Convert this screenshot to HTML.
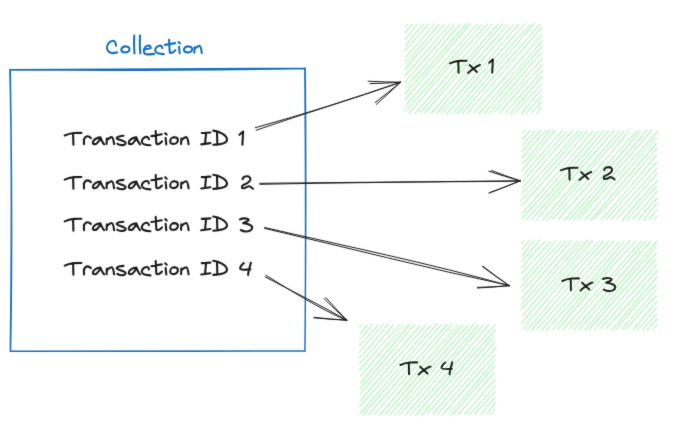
<!DOCTYPE html>
<html><head><meta charset="utf-8"><style>
html,body{margin:0;padding:0;background:#fff;width:676px;height:435px;overflow:hidden;font-family:"Liberation Sans",sans-serif;}
svg{display:block}
</style></head><body>
<svg width="676" height="435" viewBox="0 0 676 435">
<defs><filter id="bl" x="-5%" y="-5%" width="110%" height="110%"><feConvolveMatrix order="3" kernelMatrix="0.015 0.06 0.015 0.06 0.7 0.06 0.015 0.06 0.015" preserveAlpha="false"/></filter></defs>
<rect width="676" height="435" fill="#ffffff"/>
<g filter="url(#bl)">
<path fill="none" stroke="#b2f2bb" stroke-width="0.9" d="M404.76 27.30 C406.10 26.21 406.39 25.15 407.51 23.80 M405.15 27.09 C405.96 25.79 407.12 24.67 407.73 24.07 M406.14 33.42 C405.66 29.81 407.68 30.01 412.47 23.68 M404.92 32.62 C408.15 30.08 410.65 25.86 412.84 23.44 M405.11 40.38 C407.77 34.86 412.45 30.41 417.01 24.88 M405.72 39.14 C407.85 35.43 410.53 32.68 417.74 23.39 M406.03 46.23 C410.45 38.59 415.71 31.29 424.23 23.46 M405.13 45.16 C410.63 40.00 414.52 34.13 424.21 24.03 M404.88 51.12 C412.58 42.92 420.60 33.83 427.78 23.81 M404.20 51.49 C413.71 40.16 423.19 29.93 429.64 23.98 M404.83 58.26 C414.81 48.38 421.80 38.45 435.46 22.89 M405.23 57.68 C412.68 49.11 419.86 41.59 434.05 24.57 M406.32 64.48 C418.07 51.80 427.74 37.19 438.30 24.30 M404.33 63.14 C417.95 47.85 432.45 33.90 439.39 24.39 M405.53 69.91 C417.71 53.84 432.35 39.18 443.82 24.35 M404.31 69.61 C418.98 51.77 434.15 35.27 445.17 24.21 M405.02 75.07 C416.21 62.02 428.67 49.18 449.88 23.93 M405.48 75.67 C418.65 61.07 432.30 45.34 449.36 24.56 M404.43 82.69 C424.29 60.09 441.43 38.45 454.06 24.93 M405.72 81.43 C424.87 59.20 445.01 37.47 454.58 23.52 M405.99 88.86 C426.95 63.78 444.61 41.29 459.21 24.21 M404.47 87.47 C425.97 64.70 447.30 39.56 461.32 24.02 M404.51 92.98 C422.73 75.78 438.36 56.91 467.51 22.96 M405.09 94.05 C426.39 68.58 448.56 43.80 465.45 24.21 M404.55 99.82 C423.78 74.54 445.42 53.48 469.81 22.97 M405.72 99.48 C427.01 75.49 448.28 50.18 470.71 23.85 M406.21 105.26 C431.33 77.41 454.94 48.34 477.80 23.65 M404.37 106.66 C419.75 88.40 435.95 71.34 476.30 24.65 M403.44 111.31 C430.31 84.35 453.35 55.53 481.77 24.25 M405.75 111.91 C427.48 87.90 447.73 63.61 481.08 24.54 M408.98 113.80 C431.20 88.13 449.50 64.58 488.18 23.19 M409.31 113.48 C427.89 90.22 447.26 68.01 487.58 24.77 M414.53 113.92 C432.78 95.18 450.03 72.36 492.06 23.87 M414.72 113.73 C435.95 88.67 456.55 64.95 492.39 23.45 M418.77 112.19 C437.42 95.54 454.52 75.52 498.18 24.81 M420.25 113.57 C442.45 87.67 463.94 61.77 498.06 23.87 M424.11 112.76 C455.53 78.92 483.69 45.22 503.40 23.84 M425.08 113.67 C453.84 79.08 483.74 45.09 502.69 23.54 M432.09 113.58 C452.92 86.60 477.08 60.38 507.17 23.86 M430.44 113.84 C456.44 84.11 482.35 52.92 509.14 24.69 M437.27 114.11 C456.71 85.94 479.90 61.52 513.05 24.80 M435.44 114.12 C463.08 81.07 490.72 50.66 513.81 24.30 M442.80 113.51 C470.46 81.45 498.22 46.62 519.45 23.86 M440.72 112.87 C470.29 80.39 499.03 47.84 518.40 23.98 M446.54 114.28 C469.52 87.50 490.07 64.58 525.45 22.77 M446.48 114.00 C474.53 80.84 503.13 47.36 524.77 24.08 M453.26 114.21 C476.80 86.84 499.75 56.22 531.14 24.43 M452.09 113.32 C477.72 83.04 504.71 52.12 529.95 24.65 M457.56 114.41 C482.03 83.92 507.09 55.11 535.75 22.49 M456.60 114.19 C480.67 86.43 504.55 57.97 534.12 23.59 M461.96 113.15 C478.57 94.50 492.70 75.61 540.64 24.53 M462.39 113.83 C481.44 90.74 501.38 68.82 540.31 23.67 M467.29 114.12 C483.36 93.71 499.40 77.19 541.43 27.01 M467.00 113.77 C496.57 79.18 526.43 45.11 542.47 27.49 M474.24 113.56 C500.76 82.51 527.78 52.47 542.51 35.65 M472.51 113.25 C497.07 85.84 520.01 59.00 541.86 33.64 M479.02 114.22 C500.61 89.44 521.82 64.29 542.73 40.24 M478.56 113.47 C501.74 87.54 524.90 60.87 542.64 40.76 M483.90 114.76 C497.71 96.18 513.42 77.06 542.03 46.01 M484.00 113.03 C501.42 93.76 519.90 73.13 542.51 46.02 M489.94 114.04 C510.22 90.84 528.76 65.74 541.69 52.72 M488.90 112.71 C499.02 101.23 510.19 87.95 542.59 51.65 M494.75 111.97 C510.02 95.58 526.20 75.78 542.78 58.70 M493.97 112.71 C506.77 99.27 519.82 83.28 542.77 57.82 M499.23 112.68 C509.15 101.36 519.85 87.36 542.83 65.40 M500.18 113.69 C511.07 99.61 522.78 86.51 542.06 64.63 M505.67 112.79 C514.39 102.71 521.23 95.99 543.11 71.12 M505.13 113.52 C517.57 98.64 530.15 83.49 542.25 70.39 M510.11 114.45 C520.71 103.13 530.38 91.28 542.26 76.65 M509.96 113.11 C517.12 104.32 524.36 96.48 541.90 76.23 M513.85 113.57 C524.98 102.46 532.48 93.96 542.29 83.47 M514.94 112.69 C522.32 106.21 527.29 99.07 542.01 83.52 M521.70 114.90 C527.03 105.83 532.95 99.26 540.86 89.43 M520.59 113.51 C529.20 103.38 537.11 95.63 541.46 89.26 M526.71 113.02 C529.69 107.83 534.51 104.29 543.18 96.11 M525.67 113.79 C529.34 110.16 533.12 105.88 541.21 94.58 M532.15 111.89 C533.67 109.54 538.55 106.85 541.63 102.14 M531.33 113.73 C534.18 110.33 537.62 105.37 541.31 100.90 M536.73 114.13 C538.45 112.10 539.20 109.10 541.56 107.10 M536.88 113.03 C538.01 111.99 538.86 110.92 542.09 107.06"/>
<path fill="none" stroke="#b2f2bb" stroke-width="0.9" d="M521.97 133.55 C522.84 132.39 523.55 131.86 524.89 130.17 M522.08 133.36 C522.91 132.93 523.46 131.99 524.51 130.30 M521.37 138.51 C524.41 136.75 527.75 134.14 530.29 130.50 M522.60 140.25 C525.06 136.88 527.07 133.26 529.69 129.98 M521.64 147.21 C527.82 138.69 530.46 136.21 535.15 132.04 M522.45 145.37 C525.15 141.19 530.25 137.61 534.64 130.09 M520.97 152.03 C526.07 146.06 531.06 141.17 541.01 129.27 M522.75 152.33 C527.06 146.46 532.18 139.61 541.12 130.73 M521.23 158.81 C526.49 151.36 530.92 144.66 546.11 129.68 M522.73 157.91 C529.81 149.75 536.83 139.83 546.50 131.01 M523.41 163.06 C530.89 156.76 537.07 146.91 549.88 129.02 M521.61 164.55 C533.74 150.44 544.51 137.96 550.46 130.07 M521.30 171.47 C531.57 156.16 542.53 145.17 555.04 129.46 M521.78 170.76 C532.15 159.74 541.12 148.77 555.87 129.76 M523.48 174.70 C530.23 166.73 538.62 156.90 563.35 129.14 M522.38 176.55 C534.59 162.50 546.17 147.99 562.39 131.09 M522.23 182.72 C534.15 167.64 547.64 151.34 567.50 132.08 M522.38 182.45 C538.65 163.46 555.02 143.84 566.30 130.66 M521.99 188.79 C538.51 170.32 550.51 153.31 572.92 129.55 M521.91 189.05 C533.13 175.01 544.70 161.08 572.84 131.16 M521.41 193.35 C543.03 171.45 565.09 146.97 579.09 129.79 M521.54 194.38 C535.26 179.74 547.78 165.32 578.42 130.42 M520.53 201.28 C535.85 184.57 549.66 168.57 581.79 130.36 M521.43 199.89 C534.33 186.42 546.82 172.38 583.44 131.23 M520.97 205.15 C544.60 181.75 565.98 154.66 587.76 131.13 M521.83 207.18 C542.66 182.61 562.84 160.45 587.66 130.43 M522.22 214.02 C545.67 187.61 567.87 159.92 592.61 131.21 M521.54 213.45 C548.60 183.39 573.91 153.16 593.26 131.16 M521.81 219.07 C551.60 186.57 577.75 154.78 597.46 131.46 M521.42 218.34 C540.29 198.17 558.83 177.38 599.56 130.49 M526.43 219.33 C558.00 185.90 587.67 151.67 604.34 129.90 M525.88 220.56 C548.10 194.82 568.96 169.58 604.21 130.51 M531.70 219.68 C558.27 190.88 582.25 162.56 608.06 130.62 M531.28 219.96 C552.40 194.06 575.50 169.50 609.41 130.21 M535.76 220.89 C553.79 197.16 572.99 177.42 614.18 130.04 M536.35 220.02 C562.32 190.24 587.97 161.62 614.55 130.36 M542.67 220.44 C566.63 194.12 590.69 166.76 619.20 131.27 M541.95 220.68 C569.39 188.62 598.64 154.83 619.63 130.86 M547.30 220.93 C566.53 196.73 587.92 172.95 624.39 131.08 M547.56 220.41 C576.62 186.56 605.86 151.36 624.72 129.76 M551.72 218.99 C576.03 193.23 602.69 165.73 629.36 129.10 M552.57 219.95 C583.29 184.63 613.80 149.03 630.97 131.05 M557.85 219.02 C575.52 198.60 593.43 178.67 636.92 131.15 M558.31 220.01 C587.69 187.30 615.48 154.16 636.34 130.94 M564.67 220.62 C592.68 187.87 619.76 155.25 639.88 129.99 M563.67 220.20 C586.58 194.60 610.13 167.34 641.51 130.61 M569.21 220.64 C593.60 193.47 615.09 164.86 647.32 129.72 M568.55 219.36 C590.80 195.94 613.09 170.22 647.30 130.61 M572.69 220.31 C605.73 182.45 637.32 147.10 651.76 129.44 M574.76 219.87 C597.20 193.94 620.22 166.67 652.10 130.60 M577.80 219.18 C597.51 196.22 619.72 174.04 658.27 131.47 M578.67 220.65 C594.85 200.65 612.03 181.52 657.04 131.37 M585.66 220.33 C608.39 191.17 634.41 161.14 655.57 136.86 M584.58 219.62 C601.13 200.96 617.71 182.42 657.80 137.50 M591.21 220.91 C613.93 193.21 636.06 167.50 657.21 143.16 M589.55 220.77 C612.20 195.75 632.70 169.24 656.63 142.75 M593.88 218.68 C616.31 197.06 636.22 173.43 656.93 148.04 M594.57 219.39 C612.06 200.77 628.59 181.03 656.88 148.58 M602.12 219.44 C621.28 197.14 642.90 172.62 656.58 153.77 M600.65 219.98 C622.46 195.70 643.77 170.99 656.54 155.32 M606.47 219.31 C615.96 206.63 628.89 193.93 655.78 161.83 M606.51 219.90 C621.99 200.86 637.27 182.54 657.70 161.79 M610.71 219.67 C622.35 205.95 634.37 194.71 657.13 168.33 M611.76 219.65 C624.99 203.35 640.16 186.95 657.75 167.50 M617.37 218.67 C630.07 203.90 647.32 184.97 657.43 172.21 M616.00 220.42 C630.53 204.30 644.49 187.33 657.75 173.63 M622.42 221.33 C631.97 208.81 643.32 196.78 657.98 180.52 M621.79 220.34 C635.25 204.48 647.96 188.72 657.39 180.24 M626.81 219.33 C636.98 209.25 643.10 199.95 657.47 186.43 M627.19 220.65 C633.61 211.27 640.92 203.31 656.58 185.89 M631.65 218.95 C641.16 210.48 648.35 203.05 656.93 190.88 M632.43 220.73 C641.44 208.91 650.05 199.37 657.48 191.46 M639.22 220.50 C642.72 211.70 649.38 206.06 657.95 198.42 M637.37 219.62 C644.58 212.98 650.42 206.60 656.63 197.80 M643.98 221.11 C647.14 215.06 648.61 213.37 655.71 203.77 M643.52 219.69 C647.42 215.10 651.75 209.83 657.52 203.37 M649.14 219.50 C650.44 215.81 653.13 213.75 657.57 209.56 M648.20 220.62 C651.71 216.82 653.57 213.06 657.28 209.59 M654.07 220.31 C654.32 218.91 655.49 217.41 657.04 215.82 M653.42 219.84 C654.60 218.84 655.64 217.90 657.12 215.94"/>
<path fill="none" stroke="#b2f2bb" stroke-width="0.9" d="M521.21 243.15 C522.17 242.46 523.31 241.90 524.23 240.55 M521.36 243.71 C522.22 242.67 523.11 241.60 524.08 240.46 M522.51 249.67 C523.51 247.51 528.51 242.02 529.26 239.62 M521.74 249.10 C523.17 247.67 525.54 244.79 529.57 240.47 M523.00 257.27 C525.81 251.01 528.51 247.86 535.31 239.26 M522.00 255.74 C524.05 252.49 527.97 248.24 534.31 240.38 M521.66 260.81 C527.18 254.55 530.99 249.61 540.49 239.07 M521.46 262.57 C526.98 256.41 531.90 250.13 539.83 240.00 M520.76 268.80 C529.15 257.70 536.43 247.46 545.73 242.05 M521.22 268.40 C531.56 257.37 540.13 246.23 545.31 240.70 M520.42 273.37 C529.82 264.67 537.40 256.96 551.28 241.16 M521.79 274.34 C528.10 266.62 535.64 257.45 550.55 241.27 M522.98 280.96 C531.91 267.82 544.20 256.10 556.21 240.01 M520.73 280.47 C531.43 269.73 540.84 259.06 556.01 240.96 M520.90 287.62 C533.37 273.84 544.12 259.89 561.36 241.14 M521.22 286.52 C532.20 272.88 543.55 261.10 561.67 240.76 M521.46 292.14 C538.02 273.15 555.97 251.72 566.00 241.92 M521.02 292.22 C530.25 282.71 539.78 271.91 566.01 240.44 M521.37 299.56 C538.42 279.14 553.66 262.24 571.52 241.05 M521.79 298.18 C538.18 278.83 554.56 259.62 571.54 239.92 M520.05 305.49 C534.41 290.44 549.05 273.00 578.34 241.77 M522.05 304.69 C537.04 287.34 551.48 270.19 577.00 240.31 M520.44 309.67 C537.71 292.41 555.44 270.05 583.52 241.70 M521.19 310.04 C544.44 285.38 565.60 259.92 581.69 240.19 M522.19 316.06 C534.33 300.62 548.14 287.35 588.09 239.23 M521.54 316.96 C544.26 291.09 566.33 265.35 587.97 240.32 M520.79 324.17 C541.70 300.41 562.58 277.44 593.63 240.27 M522.04 322.22 C540.78 298.75 560.93 275.52 592.26 240.10 M522.99 330.38 C539.14 310.52 553.95 288.53 599.71 240.42 M521.57 328.61 C539.27 307.01 558.40 287.06 599.13 240.92 M527.20 330.32 C556.67 294.08 585.35 260.98 604.39 241.54 M526.43 330.78 C553.40 298.20 580.97 267.29 603.43 240.07 M531.28 331.45 C553.33 304.87 573.84 279.60 609.71 240.92 M531.27 329.81 C549.03 308.65 568.38 287.62 608.95 240.44 M535.88 329.57 C554.37 310.77 572.45 287.84 614.76 240.17 M536.72 329.36 C559.42 303.89 584.19 276.55 613.73 240.40 M540.78 330.44 C561.66 307.66 581.11 285.88 619.42 241.90 M542.09 330.40 C563.04 305.30 585.47 280.35 619.81 240.69 M545.53 331.25 C574.86 299.20 602.10 270.16 623.74 241.58 M546.91 329.28 C568.71 304.25 591.23 278.89 624.25 241.03 M553.74 328.87 C572.96 306.33 596.61 281.86 630.24 240.07 M552.43 330.47 C569.87 308.45 589.40 286.49 630.34 240.00 M557.45 328.47 C585.74 296.47 614.04 262.68 636.80 240.57 M557.73 330.07 C582.02 301.35 606.40 272.84 635.92 240.54 M562.65 330.96 C588.28 301.39 613.62 272.83 641.93 240.98 M562.35 329.27 C585.23 305.54 605.85 281.13 641.50 240.55 M569.78 329.11 C585.79 309.00 603.72 287.64 646.69 241.30 M568.66 329.89 C595.74 296.85 624.85 264.74 645.40 240.48 M573.67 330.10 C597.38 305.89 617.19 280.45 650.76 241.90 M573.81 330.33 C589.79 309.93 607.46 290.91 650.83 240.39 M579.74 329.80 C608.22 296.23 633.77 265.72 657.87 241.01 M578.16 329.35 C602.27 304.49 626.02 277.39 656.93 240.45 M585.26 330.57 C610.04 298.60 635.54 269.73 655.89 245.24 M583.88 330.78 C605.44 306.23 625.61 282.37 656.52 246.94 M588.31 330.13 C614.05 299.54 641.25 269.30 656.15 253.03 M588.79 330.70 C609.20 307.60 629.17 283.66 657.76 252.29 M594.91 329.19 C620.08 302.12 641.35 274.46 656.27 259.82 M594.02 330.53 C617.34 302.69 641.22 276.85 656.49 257.69 M598.90 329.36 C621.35 304.60 645.36 280.89 657.11 263.17 M600.72 329.24 C613.39 315.06 626.49 298.25 656.63 265.11 M605.86 328.94 C618.49 316.08 632.45 300.09 658.55 270.28 M604.72 329.64 C625.41 307.04 644.85 283.68 656.96 269.79 M612.04 330.57 C622.29 319.96 630.84 307.69 657.49 277.30 M610.56 330.30 C620.84 319.13 630.28 306.63 657.36 275.96 M615.35 330.68 C630.43 311.21 645.46 293.50 657.39 284.34 M615.65 329.75 C623.61 320.47 632.12 310.39 656.42 283.46 M622.01 329.13 C631.97 317.24 646.09 302.27 655.86 289.81 M622.00 330.20 C631.84 316.87 643.88 304.67 656.96 288.29 M625.55 328.88 C633.55 320.54 639.50 313.44 655.56 295.72 M626.02 329.87 C637.06 316.71 648.54 304.28 657.77 295.25 M633.33 330.89 C642.29 318.83 651.96 308.00 657.25 301.22 M632.56 330.44 C638.59 322.19 645.50 313.68 657.04 301.43 M637.53 328.95 C641.73 326.42 645.56 319.42 657.31 306.88 M636.90 330.78 C642.97 323.67 649.36 317.59 656.23 307.85 M641.67 330.69 C645.74 326.09 649.16 322.41 657.50 313.89 M643.04 330.06 C645.41 326.02 647.78 323.85 656.30 313.90 M646.43 329.85 C650.69 327.26 651.01 323.96 658.26 318.24 M647.83 330.26 C650.40 326.12 654.50 322.52 656.98 319.30 M653.20 330.05 C653.94 328.46 655.75 327.06 656.85 325.00 M653.15 329.73 C653.95 328.60 655.20 327.26 657.27 325.36"/>
<path fill="none" stroke="#b2f2bb" stroke-width="0.9" d="M359.88 327.39 C360.04 326.59 360.70 326.29 361.95 324.63 M359.74 327.69 C360.06 326.82 360.75 326.32 362.38 324.72 M360.31 333.16 C363.32 330.32 365.99 327.16 367.38 324.27 M359.99 334.11 C362.49 331.41 364.24 328.86 367.11 324.81 M359.67 339.05 C363.37 335.84 367.00 329.92 372.82 323.75 M358.92 340.08 C363.67 335.93 366.57 333.03 372.12 324.03 M358.51 345.66 C367.36 339.43 373.86 329.53 379.28 324.20 M359.77 346.30 C365.63 338.66 372.59 331.29 377.93 324.96 M360.19 350.80 C365.21 343.43 372.95 337.62 383.59 323.12 M358.80 352.83 C365.93 343.97 373.03 336.55 382.77 324.55 M359.07 358.12 C368.89 349.25 375.27 340.57 388.10 323.10 M359.21 358.43 C368.69 347.57 377.03 337.65 388.34 324.26 M359.27 362.91 C368.82 355.26 374.70 346.28 393.06 324.54 M359.50 363.65 C371.00 351.40 381.65 339.25 393.74 324.42 M359.41 371.53 C369.65 359.50 376.41 350.33 400.32 324.03 M358.81 369.92 C375.20 352.69 389.63 335.74 399.10 325.08 M360.99 376.49 C371.70 363.53 381.53 351.53 405.74 325.87 M360.10 376.48 C369.63 365.58 379.68 352.62 403.93 323.85 M360.77 384.12 C378.34 362.10 395.14 343.40 410.64 323.93 M360.39 382.48 C377.33 362.72 395.37 341.06 409.20 324.21 M360.72 389.75 C373.71 373.37 389.64 354.68 414.49 324.48 M359.40 388.58 C380.24 364.65 401.16 340.70 414.74 323.96 M359.59 394.78 C380.26 371.14 399.34 350.26 420.32 326.07 M360.14 394.16 C370.94 380.73 384.79 366.01 420.53 324.77 M359.44 401.64 C375.53 381.48 391.08 364.06 425.62 325.93 M360.29 401.32 C383.68 374.13 406.57 347.58 426.00 324.21 M358.18 407.36 C375.88 388.18 392.62 370.68 430.77 325.61 M360.29 406.82 C381.68 382.07 402.69 358.31 431.44 324.40 M360.60 413.92 C377.75 393.89 392.47 375.21 437.25 323.26 M359.28 413.76 C378.32 392.42 397.14 369.77 437.21 323.94 M362.80 414.08 C380.10 393.87 399.32 373.86 440.89 324.81 M363.49 415.48 C393.10 380.13 421.43 346.82 441.78 324.63 M368.23 414.75 C396.13 381.83 425.20 350.48 448.35 323.90 M367.92 415.57 C396.76 383.40 423.47 352.32 446.74 323.97 M374.01 414.74 C397.67 387.83 419.11 362.18 450.76 325.84 M374.28 414.92 C391.32 394.37 407.75 375.31 451.94 324.04 M379.87 415.79 C408.46 381.49 439.87 346.68 459.07 325.56 M379.15 415.51 C404.00 385.90 428.18 357.64 457.40 324.49 M385.44 415.30 C404.71 392.75 424.57 368.68 463.75 325.31 M384.46 414.50 C410.79 383.30 438.61 352.52 462.22 324.36 M388.58 415.87 C416.86 383.32 443.01 351.33 469.22 325.35 M389.99 414.91 C414.72 387.48 438.78 359.62 467.66 325.33 M394.80 416.39 C411.40 395.28 427.02 376.57 474.00 323.77 M395.56 414.94 C411.84 394.84 429.61 374.55 473.55 325.34 M398.72 415.21 C417.22 394.60 437.39 373.76 478.83 324.93 M400.62 414.31 C419.98 392.39 439.66 369.62 478.10 324.80 M407.15 413.86 C432.44 384.12 458.02 351.45 483.32 324.67 M404.89 415.35 C433.37 382.07 461.63 349.88 483.85 324.52 M410.02 415.55 C439.97 382.65 467.19 351.63 488.55 323.88 M410.07 415.45 C434.72 386.94 458.35 359.16 489.76 324.23 M414.79 416.25 C432.26 394.06 451.78 374.43 496.03 323.56 M416.51 414.95 C440.63 387.40 464.70 358.67 494.50 325.22 M421.77 416.44 C446.00 384.75 471.86 354.73 496.10 329.15 M420.98 415.12 C448.23 383.77 474.93 354.39 495.46 330.13 M425.84 413.79 C447.29 392.88 464.96 371.19 493.97 334.86 M427.16 414.89 C445.32 393.14 463.66 371.99 494.95 336.33 M433.24 415.05 C453.38 388.14 478.33 362.18 494.60 341.57 M432.28 414.22 C456.08 386.53 480.44 360.14 494.81 342.40 M437.18 414.34 C452.42 396.65 466.42 381.92 496.67 346.92 M437.10 414.47 C459.15 390.19 481.66 364.12 495.52 347.53 M442.42 414.68 C459.56 394.31 476.72 373.50 496.11 354.16 M442.43 415.53 C454.49 401.93 465.35 388.88 495.36 354.25 M449.26 416.37 C467.80 395.10 484.02 373.38 494.30 361.43 M447.50 415.11 C461.83 399.64 474.42 384.24 495.00 359.98 M452.59 414.48 C469.59 396.47 482.94 378.78 494.18 365.29 M452.88 414.67 C463.70 401.99 473.31 390.89 495.44 366.18 M457.54 414.16 C467.97 404.13 478.25 390.82 494.45 371.57 M458.30 415.07 C471.14 399.10 484.12 385.00 495.34 372.97 M464.09 414.22 C474.43 404.21 482.62 393.65 496.65 379.35 M464.41 415.16 C473.67 404.41 482.06 393.57 495.13 378.06 M468.24 414.76 C480.25 404.66 490.23 391.21 495.27 386.14 M469.14 415.01 C477.06 407.52 484.11 398.11 496.10 385.37 M473.84 414.17 C479.94 408.85 483.72 403.03 495.38 392.29 M475.13 415.01 C478.51 409.69 483.44 405.28 495.41 391.11 M481.09 414.95 C484.16 412.16 486.79 405.80 494.23 397.45 M480.48 414.64 C484.20 410.46 487.97 404.94 495.60 396.63 M486.33 414.05 C488.71 412.87 491.08 409.81 494.72 401.68 M485.72 414.36 C488.64 411.40 492.50 406.79 496.19 402.25 M489.86 414.82 C491.78 413.07 493.50 410.81 494.98 409.05 M490.47 414.72 C492.24 413.07 494.30 410.02 495.55 409.17"/>
<path fill="none" stroke="#1971c2" stroke-width="1.4" stroke-linecap="round" d="M9.8 69.6 C100 69.5 200 68.2 305.2 68.1 M10.5 69.8 C110 70.8 200 70.3 305 68.6 M304.8 68 C305.5 150 306 250 304.9 351.2 M305.2 68.5 C306.2 160 305.8 260 305 350.8 M305.2 350.9 C200 350.8 100 351.3 10.3 351.1 M304.6 351.1 C210 351.6 90 350.7 10.6 351.3 M10.3 351.4 C11.5 250 12 150 9.8 69.4 M10.6 351 C12.3 260 11.4 140 10.3 69.8"/>
<path fill="none" stroke="#1e1e1e" stroke-width="1.0" stroke-linecap="round" d="M255.31 127.70 C304.23 114.17 352.56 98.81 400.50 82.20 M256.12 130.25 C304.02 113.51 352.62 99.00 400.56 82.39 M368.10 81.20 Q384.29 82.10 400.50 82.20 M370.20 83.60 Q385.37 83.30 400.50 82.20 M375.00 102.60 Q388.00 92.71 400.50 82.20 M376.40 104.30 Q388.72 93.54 400.50 82.20"/>
<path fill="none" stroke="#1e1e1e" stroke-width="1.0" stroke-linecap="round" d="M259.80 183.30 C346.60 182.47 433.40 181.63 520.20 180.80 M259.81 184.30 C346.60 182.47 433.40 181.93 520.20 181.20 M488.80 171.20 Q504.38 176.38 520.20 180.80 M491.60 170.50 Q505.76 176.03 520.20 180.80 M488.80 193.20 Q504.65 187.37 520.20 180.80 M489.80 192.60 Q505.14 187.07 520.20 180.80"/>
<path fill="none" stroke="#1e1e1e" stroke-width="1.0" stroke-linecap="round" d="M264.77 227.51 C346.42 246.32 428.55 263.09 509.30 285.70 M264.56 228.38 C346.16 247.39 427.33 268.25 509.35 285.51 M482.50 266.60 Q495.67 276.48 509.30 285.70 M482.90 266.30 Q495.86 276.32 509.30 285.70 M477.30 288.00 Q493.33 287.25 509.30 285.70 M477.60 287.40 Q493.47 286.95 509.30 285.70"/>
<path fill="none" stroke="#1e1e1e" stroke-width="1.0" stroke-linecap="round" d="M265.20 276.90 C292.40 291.33 320.07 304.88 346.80 320.20 M266.05 275.29 C292.26 291.60 318.38 308.06 346.66 320.47 M324.00 298.60 Q335.12 309.69 346.80 320.20 M325.80 297.50 Q336.01 309.12 346.80 320.20 M313.70 317.40 Q330.22 319.20 346.80 320.20 M314.30 317.80 Q330.52 319.40 346.80 320.20"/>
<g fill="none" stroke="#1e1e1e" stroke-width="2.1" stroke-linecap="round" stroke-linejoin="round">
<path transform="translate(64.10 144.70)" d="M 0.60 -9.20 Q 4.90 -11.20 9.70 -11.70 L 17.30 -11.80 M 9.00 -11.30 L 9.30 0.00"/>
<path transform="translate(83.30 144.70)" d="M 0.70 -0.40 L 0.60 -5.30 Q 2.20 -8.50 4.00 -8.40 Q 6.20 -8.30 7.60 -6.60"/>
<path transform="translate(92.40 144.70)" d="M 8.00 -7.30 C 4.60 -7.00 0.60 -5.00 0.50 -2.20 C 0.40 0.00 3.10 -0.20 4.60 -1.50 C 6.10 -2.70 7.40 -5.00 8.00 -7.30 C 9.10 -4.50 10.10 -1.70 11.80 -0.40"/>
<path transform="translate(106.30 144.70)" d="M 0.30 -0.70 L 0.50 -6.20 L 0.70 -4.70 C 2.20 -6.20 4.20 -7.70 5.50 -7.60 C 6.70 -7.40 7.40 -3.50 7.80 -0.50"/>
<path transform="translate(116.10 144.70)" d="M 7.40 -8.90 C 4.90 -8.90 0.90 -8.00 0.50 -6.60 C 0.20 -5.20 8.90 -4.00 9.50 -2.00 C 9.90 0.00 6.90 0.50 5.40 0.40 C 3.40 0.30 1.90 -0.30 1.20 -0.90"/>
<path transform="translate(128.30 144.70)" d="M 8.00 -7.30 C 4.60 -7.00 0.60 -5.00 0.50 -2.20 C 0.40 0.00 3.10 -0.20 4.60 -1.50 C 6.10 -2.70 7.40 -5.00 8.00 -7.30 C 9.10 -4.50 10.10 -1.70 11.80 -0.40"/>
<path transform="translate(141.80 144.70)" d="M 7.10 -5.40 C 7.00 -7.20 5.70 -8.00 4.20 -7.80 C 1.70 -7.50 0.00 -5.00 0.00 -3.00 C 0.10 -0.50 2.70 0.30 8.60 0.60"/>
<path transform="translate(151.30 144.70)" d="M 0.10 -8.60 L 10.50 -10.40 M 4.40 -13.70 L 5.00 -1.50 C 5.20 0.00 8.20 0.00 10.70 -3.30"/>
<path transform="translate(164.80 144.70)" d="M 0.40 -11.50 L 1.90 -10.10 M 0.80 -6.70 L 1.50 -0.30"/>
<path transform="translate(169.90 144.70)" d="M 4.10 -7.50 C 1.60 -7.50 0.30 -5.00 0.30 -3.20 C 0.30 -1.50 1.60 -0.70 3.60 -0.70 C 6.60 -0.70 8.10 -3.00 8.00 -5.00 C 7.90 -6.70 6.60 -7.50 4.10 -7.50"/>
<path transform="translate(180.80 144.70)" d="M 0.30 -0.70 L 0.50 -6.20 L 0.70 -4.70 C 2.20 -6.20 4.20 -7.70 5.50 -7.60 C 6.70 -7.40 7.40 -3.50 7.80 -0.50"/>
<path transform="translate(201.30 144.70)" d="M 0.50 -11.70 L 9.10 -12.20 M 4.80 -11.90 L 3.80 -1.60 M 0.00 -0.30 L 9.10 -1.60"/>
<path transform="translate(212.70 144.70)" d="M 4.30 -11.90 L 4.60 -1.90 M 0.50 -14.10 C 6.30 -13.50 14.30 -9.50 14.30 -5.00 C 14.30 -1.50 6.80 -0.20 0.60 0.10"/>
<path transform="translate(239.40 144.70)" d="M 0.00 -9.90 L 3.70 -13.20 L 3.00 0.00"/>
</g>
<g fill="none" stroke="#1e1e1e" stroke-width="2.1" stroke-linecap="round" stroke-linejoin="round">
<path transform="translate(64.10 188.80)" d="M 0.60 -9.20 Q 4.90 -11.20 9.70 -11.70 L 17.30 -11.80 M 9.00 -11.30 L 9.30 0.00"/>
<path transform="translate(83.30 188.80)" d="M 0.70 -0.40 L 0.60 -5.30 Q 2.20 -8.50 4.00 -8.40 Q 6.20 -8.30 7.60 -6.60"/>
<path transform="translate(92.40 188.80)" d="M 8.00 -7.30 C 4.60 -7.00 0.60 -5.00 0.50 -2.20 C 0.40 0.00 3.10 -0.20 4.60 -1.50 C 6.10 -2.70 7.40 -5.00 8.00 -7.30 C 9.10 -4.50 10.10 -1.70 11.80 -0.40"/>
<path transform="translate(106.30 188.80)" d="M 0.30 -0.70 L 0.50 -6.20 L 0.70 -4.70 C 2.20 -6.20 4.20 -7.70 5.50 -7.60 C 6.70 -7.40 7.40 -3.50 7.80 -0.50"/>
<path transform="translate(116.10 188.80)" d="M 7.40 -8.90 C 4.90 -8.90 0.90 -8.00 0.50 -6.60 C 0.20 -5.20 8.90 -4.00 9.50 -2.00 C 9.90 0.00 6.90 0.50 5.40 0.40 C 3.40 0.30 1.90 -0.30 1.20 -0.90"/>
<path transform="translate(128.30 188.80)" d="M 8.00 -7.30 C 4.60 -7.00 0.60 -5.00 0.50 -2.20 C 0.40 0.00 3.10 -0.20 4.60 -1.50 C 6.10 -2.70 7.40 -5.00 8.00 -7.30 C 9.10 -4.50 10.10 -1.70 11.80 -0.40"/>
<path transform="translate(141.80 188.80)" d="M 7.10 -5.40 C 7.00 -7.20 5.70 -8.00 4.20 -7.80 C 1.70 -7.50 0.00 -5.00 0.00 -3.00 C 0.10 -0.50 2.70 0.30 8.60 0.60"/>
<path transform="translate(151.30 188.80)" d="M 0.10 -8.60 L 10.50 -10.40 M 4.40 -13.70 L 5.00 -1.50 C 5.20 0.00 8.20 0.00 10.70 -3.30"/>
<path transform="translate(164.80 188.80)" d="M 0.40 -11.50 L 1.90 -10.10 M 0.80 -6.70 L 1.50 -0.30"/>
<path transform="translate(169.90 188.80)" d="M 4.10 -7.50 C 1.60 -7.50 0.30 -5.00 0.30 -3.20 C 0.30 -1.50 1.60 -0.70 3.60 -0.70 C 6.60 -0.70 8.10 -3.00 8.00 -5.00 C 7.90 -6.70 6.60 -7.50 4.10 -7.50"/>
<path transform="translate(180.80 188.80)" d="M 0.30 -0.70 L 0.50 -6.20 L 0.70 -4.70 C 2.20 -6.20 4.20 -7.70 5.50 -7.60 C 6.70 -7.40 7.40 -3.50 7.80 -0.50"/>
<path transform="translate(201.30 188.80)" d="M 0.50 -11.70 L 9.10 -12.20 M 4.80 -11.90 L 3.80 -1.60 M 0.00 -0.30 L 9.10 -1.60"/>
<path transform="translate(212.70 188.80)" d="M 4.30 -11.90 L 4.60 -1.90 M 0.50 -14.10 C 6.30 -13.50 14.30 -9.50 14.30 -5.00 C 14.30 -1.50 6.80 -0.20 0.60 0.10"/>
<path transform="translate(241.30 188.80)" d="M 1.30 -9.50 C 1.20 -11.30 3.20 -12.50 5.80 -12.50 C 8.20 -12.50 9.30 -10.80 9.00 -9.00 C 8.70 -6.80 4.70 -5.00 2.20 -3.80 C 0.20 -2.80 0.00 -0.70 2.20 -0.60 C 4.20 -0.50 6.20 -2.50 7.70 -2.50 C 9.20 -2.50 10.70 -1.00 11.60 -0.10"/>
</g>
<g fill="none" stroke="#1e1e1e" stroke-width="2.1" stroke-linecap="round" stroke-linejoin="round">
<path transform="translate(64.10 230.60)" d="M 0.60 -9.20 Q 4.90 -11.20 9.70 -11.70 L 17.30 -11.80 M 9.00 -11.30 L 9.30 0.00"/>
<path transform="translate(83.30 230.60)" d="M 0.70 -0.40 L 0.60 -5.30 Q 2.20 -8.50 4.00 -8.40 Q 6.20 -8.30 7.60 -6.60"/>
<path transform="translate(92.40 230.60)" d="M 8.00 -7.30 C 4.60 -7.00 0.60 -5.00 0.50 -2.20 C 0.40 0.00 3.10 -0.20 4.60 -1.50 C 6.10 -2.70 7.40 -5.00 8.00 -7.30 C 9.10 -4.50 10.10 -1.70 11.80 -0.40"/>
<path transform="translate(106.30 230.60)" d="M 0.30 -0.70 L 0.50 -6.20 L 0.70 -4.70 C 2.20 -6.20 4.20 -7.70 5.50 -7.60 C 6.70 -7.40 7.40 -3.50 7.80 -0.50"/>
<path transform="translate(116.10 230.60)" d="M 7.40 -8.90 C 4.90 -8.90 0.90 -8.00 0.50 -6.60 C 0.20 -5.20 8.90 -4.00 9.50 -2.00 C 9.90 0.00 6.90 0.50 5.40 0.40 C 3.40 0.30 1.90 -0.30 1.20 -0.90"/>
<path transform="translate(128.30 230.60)" d="M 8.00 -7.30 C 4.60 -7.00 0.60 -5.00 0.50 -2.20 C 0.40 0.00 3.10 -0.20 4.60 -1.50 C 6.10 -2.70 7.40 -5.00 8.00 -7.30 C 9.10 -4.50 10.10 -1.70 11.80 -0.40"/>
<path transform="translate(141.80 230.60)" d="M 7.10 -5.40 C 7.00 -7.20 5.70 -8.00 4.20 -7.80 C 1.70 -7.50 0.00 -5.00 0.00 -3.00 C 0.10 -0.50 2.70 0.30 8.60 0.60"/>
<path transform="translate(151.30 230.60)" d="M 0.10 -8.60 L 10.50 -10.40 M 4.40 -13.70 L 5.00 -1.50 C 5.20 0.00 8.20 0.00 10.70 -3.30"/>
<path transform="translate(164.80 230.60)" d="M 0.40 -11.50 L 1.90 -10.10 M 0.80 -6.70 L 1.50 -0.30"/>
<path transform="translate(169.90 230.60)" d="M 4.10 -7.50 C 1.60 -7.50 0.30 -5.00 0.30 -3.20 C 0.30 -1.50 1.60 -0.70 3.60 -0.70 C 6.60 -0.70 8.10 -3.00 8.00 -5.00 C 7.90 -6.70 6.60 -7.50 4.10 -7.50"/>
<path transform="translate(180.80 230.60)" d="M 0.30 -0.70 L 0.50 -6.20 L 0.70 -4.70 C 2.20 -6.20 4.20 -7.70 5.50 -7.60 C 6.70 -7.40 7.40 -3.50 7.80 -0.50"/>
<path transform="translate(201.30 230.60)" d="M 0.50 -11.70 L 9.10 -12.20 M 4.80 -11.90 L 3.80 -1.60 M 0.00 -0.30 L 9.10 -1.60"/>
<path transform="translate(212.70 230.60)" d="M 4.30 -11.90 L 4.60 -1.90 M 0.50 -14.10 C 6.30 -13.50 14.30 -9.50 14.30 -5.00 C 14.30 -1.50 6.80 -0.20 0.60 0.10"/>
<path transform="translate(240.10 230.60)" d="M -0.10 -11.20 C 1.90 -12.50 7.40 -12.80 8.50 -11.00 C 9.10 -9.60 4.90 -8.30 3.00 -7.50 C 7.90 -7.00 12.40 -5.30 12.10 -2.80 C 11.90 0.20 7.90 1.00 5.90 0.90 C 3.40 0.80 1.90 0.10 0.70 -0.60"/>
</g>
<g fill="none" stroke="#1e1e1e" stroke-width="2.1" stroke-linecap="round" stroke-linejoin="round">
<path transform="translate(64.10 274.80)" d="M 0.60 -9.20 Q 4.90 -11.20 9.70 -11.70 L 17.30 -11.80 M 9.00 -11.30 L 9.30 0.00"/>
<path transform="translate(83.30 274.80)" d="M 0.70 -0.40 L 0.60 -5.30 Q 2.20 -8.50 4.00 -8.40 Q 6.20 -8.30 7.60 -6.60"/>
<path transform="translate(92.40 274.80)" d="M 8.00 -7.30 C 4.60 -7.00 0.60 -5.00 0.50 -2.20 C 0.40 0.00 3.10 -0.20 4.60 -1.50 C 6.10 -2.70 7.40 -5.00 8.00 -7.30 C 9.10 -4.50 10.10 -1.70 11.80 -0.40"/>
<path transform="translate(106.30 274.80)" d="M 0.30 -0.70 L 0.50 -6.20 L 0.70 -4.70 C 2.20 -6.20 4.20 -7.70 5.50 -7.60 C 6.70 -7.40 7.40 -3.50 7.80 -0.50"/>
<path transform="translate(116.10 274.80)" d="M 7.40 -8.90 C 4.90 -8.90 0.90 -8.00 0.50 -6.60 C 0.20 -5.20 8.90 -4.00 9.50 -2.00 C 9.90 0.00 6.90 0.50 5.40 0.40 C 3.40 0.30 1.90 -0.30 1.20 -0.90"/>
<path transform="translate(128.30 274.80)" d="M 8.00 -7.30 C 4.60 -7.00 0.60 -5.00 0.50 -2.20 C 0.40 0.00 3.10 -0.20 4.60 -1.50 C 6.10 -2.70 7.40 -5.00 8.00 -7.30 C 9.10 -4.50 10.10 -1.70 11.80 -0.40"/>
<path transform="translate(141.80 274.80)" d="M 7.10 -5.40 C 7.00 -7.20 5.70 -8.00 4.20 -7.80 C 1.70 -7.50 0.00 -5.00 0.00 -3.00 C 0.10 -0.50 2.70 0.30 8.60 0.60"/>
<path transform="translate(151.30 274.80)" d="M 0.10 -8.60 L 10.50 -10.40 M 4.40 -13.70 L 5.00 -1.50 C 5.20 0.00 8.20 0.00 10.70 -3.30"/>
<path transform="translate(164.80 274.80)" d="M 0.40 -11.50 L 1.90 -10.10 M 0.80 -6.70 L 1.50 -0.30"/>
<path transform="translate(169.90 274.80)" d="M 4.10 -7.50 C 1.60 -7.50 0.30 -5.00 0.30 -3.20 C 0.30 -1.50 1.60 -0.70 3.60 -0.70 C 6.60 -0.70 8.10 -3.00 8.00 -5.00 C 7.90 -6.70 6.60 -7.50 4.10 -7.50"/>
<path transform="translate(180.80 274.80)" d="M 0.30 -0.70 L 0.50 -6.20 L 0.70 -4.70 C 2.20 -6.20 4.20 -7.70 5.50 -7.60 C 6.70 -7.40 7.40 -3.50 7.80 -0.50"/>
<path transform="translate(201.30 274.80)" d="M 0.50 -11.70 L 9.10 -12.20 M 4.80 -11.90 L 3.80 -1.60 M 0.00 -0.30 L 9.10 -1.60"/>
<path transform="translate(212.70 274.80)" d="M 4.30 -11.90 L 4.60 -1.90 M 0.50 -14.10 C 6.30 -13.50 14.30 -9.50 14.30 -5.00 C 14.30 -1.50 6.80 -0.20 0.60 0.10"/>
<path transform="translate(239.80 274.80)" d="M 4.00 -11.70 C 2.20 -10.30 0.20 -8.30 0.40 -6.30 C 0.70 -4.80 6.20 -5.00 10.60 -5.40 M 11.10 -12.00 C 10.20 -8.80 8.70 -3.80 8.30 0.10"/>
</g>
<g fill="none" stroke="#1e1e1e" stroke-width="2.1" stroke-linecap="round" stroke-linejoin="round">
<path transform="translate(449.30 72.60)" d="M 0.60 -9.20 Q 4.90 -11.20 9.70 -11.70 L 17.30 -11.80 M 9.00 -11.30 L 9.30 0.00"/>
<path transform="translate(468.00 72.60)" d="M 0.00 0.30 C 3.60 -3.10 7.60 -6.10 11.90 -7.70 M 1.60 -7.50 L 8.90 -0.60"/>
<path transform="translate(489.20 72.60)" d="M 0.00 -9.90 L 3.70 -13.20 L 3.00 0.00"/>
</g>
<g fill="none" stroke="#1e1e1e" stroke-width="2.1" stroke-linecap="round" stroke-linejoin="round">
<path transform="translate(560.30 179.60)" d="M 0.60 -9.20 Q 4.90 -11.20 9.70 -11.70 L 17.30 -11.80 M 9.00 -11.30 L 9.30 0.00"/>
<path transform="translate(579.40 179.60)" d="M 0.00 0.30 C 3.60 -3.10 7.60 -6.10 11.90 -7.70 M 1.60 -7.50 L 8.90 -0.60"/>
<path transform="translate(603.00 179.60)" d="M 1.30 -9.50 C 1.20 -11.30 3.20 -12.50 5.80 -12.50 C 8.20 -12.50 9.30 -10.80 9.00 -9.00 C 8.70 -6.80 4.70 -5.00 2.20 -3.80 C 0.20 -2.80 0.00 -0.70 2.20 -0.60 C 4.20 -0.50 6.20 -2.50 7.70 -2.50 C 9.20 -2.50 10.70 -1.00 11.60 -0.10"/>
</g>
<g fill="none" stroke="#1e1e1e" stroke-width="2.1" stroke-linecap="round" stroke-linejoin="round">
<path transform="translate(561.70 290.20)" d="M 0.60 -9.20 Q 4.90 -11.20 9.70 -11.70 L 17.30 -11.80 M 9.00 -11.30 L 9.30 0.00"/>
<path transform="translate(580.50 290.20)" d="M 0.00 0.30 C 3.60 -3.10 7.60 -6.10 11.90 -7.70 M 1.60 -7.50 L 8.90 -0.60"/>
<path transform="translate(603.10 290.20)" d="M -0.10 -11.20 C 1.90 -12.50 7.40 -12.80 8.50 -11.00 C 9.10 -9.60 4.90 -8.30 3.00 -7.50 C 7.90 -7.00 12.40 -5.30 12.10 -2.80 C 11.90 0.20 7.90 1.00 5.90 0.90 C 3.40 0.80 1.90 0.10 0.70 -0.60"/>
</g>
<g fill="none" stroke="#1e1e1e" stroke-width="2.1" stroke-linecap="round" stroke-linejoin="round">
<path transform="translate(399.80 374.20)" d="M 0.60 -9.20 Q 4.90 -11.20 9.70 -11.70 L 17.30 -11.80 M 9.00 -11.30 L 9.30 0.00"/>
<path transform="translate(418.60 374.20)" d="M 0.00 0.30 C 3.60 -3.10 7.60 -6.10 11.90 -7.70 M 1.60 -7.50 L 8.90 -0.60"/>
<path transform="translate(441.20 374.20)" d="M 4.00 -11.70 C 2.20 -10.30 0.20 -8.30 0.40 -6.30 C 0.70 -4.80 6.20 -5.00 10.60 -5.40 M 11.10 -12.00 C 10.20 -8.80 8.70 -3.80 8.30 0.10"/>
</g>
<g fill="none" stroke="#1971c2" stroke-width="2.1" stroke-linecap="round" stroke-linejoin="round">
<path transform="translate(106.70 53.50)" d="M 9.20 -7.80 C 9.30 -10.50 8.30 -12.80 6.10 -12.70 C 3.30 -12.60 0.30 -9.50 0.30 -5.50 C 0.30 -2.50 2.80 -0.40 6.30 -0.40 C 7.80 -0.40 9.30 -0.70 10.50 -1.20"/>
<path transform="translate(120.90 53.50)" d="M 5.10 -7.10 C 2.10 -7.20 0.40 -5.50 0.40 -3.70 C 0.40 -2.10 1.90 -1.10 4.10 -1.10 C 7.10 -1.10 8.60 -2.70 8.60 -4.30 C 8.60 -6.00 7.10 -7.10 4.60 -7.00"/>
<path transform="translate(134.20 53.50)" d="M 0.00 -18.00 C -0.30 -12.50 -0.30 -6.50 0.30 -0.10"/>
<path transform="translate(140.00 53.50)" d="M 0.00 -18.00 C -0.30 -12.50 -0.30 -6.50 0.30 -0.10"/>
<path transform="translate(143.80 53.50)" d="M 0.90 -4.00 L 7.00 -5.60 C 6.70 -7.50 5.70 -8.10 4.50 -8.00 C 1.70 -7.70 0.00 -5.00 0.00 -2.70 C 0.00 -0.50 1.20 0.90 3.70 0.90 C 5.70 0.90 8.20 0.70 10.30 0.40"/>
<path transform="translate(155.20 53.50)" d="M 7.10 -5.40 C 7.00 -7.20 5.70 -8.00 4.20 -7.80 C 1.70 -7.50 0.00 -5.00 0.00 -3.00 C 0.10 -0.50 2.70 0.30 8.60 0.60"/>
<path transform="translate(164.70 53.50)" d="M 0.10 -8.60 L 10.50 -10.40 M 4.40 -13.70 L 5.00 -1.50 C 5.20 0.00 8.20 0.00 10.70 -3.30"/>
<path transform="translate(178.20 53.50)" d="M 0.40 -11.50 L 1.90 -10.10 M 0.80 -6.70 L 1.50 -0.30"/>
<path transform="translate(183.50 53.50)" d="M 5.10 -7.10 C 2.10 -7.20 0.40 -5.50 0.40 -3.70 C 0.40 -2.10 1.90 -1.10 4.10 -1.10 C 7.10 -1.10 8.60 -2.70 8.60 -4.30 C 8.60 -6.00 7.10 -7.10 4.60 -7.00"/>
<path transform="translate(194.00 53.50)" d="M 0.30 -0.70 L 0.50 -6.20 L 0.70 -4.70 C 2.20 -6.20 4.20 -7.70 5.50 -7.60 C 6.70 -7.40 7.40 -3.50 7.80 -0.50"/>
</g>
</g>
</svg>
</body></html>
